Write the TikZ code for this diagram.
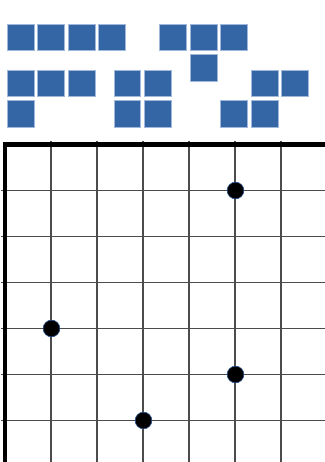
\documentclass[tikz,border=0pt]{standalone}
\usepackage{xcolor}
\usepackage{tikz}
\usetikzlibrary{shapes,positioning}
\definecolor{tileblue}{RGB}{52,101,164}
\definecolor{tileedge}{RGB}{160,185,218}
\definecolor{dotedge}{RGB}{40,80,140}

\begin{document}
\begin{tikzpicture}[x=0.75pt, y=0.75pt,
        cell/.style={rectangle, draw=tileedge, line width=0.6pt, fill=tileblue, minimum size=20pt, inner sep=0pt},
        dot/.style={circle, draw=dotedge, line width=0.5pt, fill=black, minimum size=12.5pt, inner sep=0pt},
        gridline/.style={black!70, line width=0.8pt},
        border/.style={black, line width=3.4pt}]

        \useasboundingbox (0,0) rectangle (325,462);

        % I piece
        \node[cell] (i1) at (20.65,424.65) {};
        \node[cell] (i2) at (51.15,424.65) {};
        \node[cell] (i3) at (81.65,424.65) {};
        \node[cell] (i4) at (112.15,424.65) {};

        % T piece
        \node[cell] (t1) at (173.15,424.65) {};
        \node[cell] (t2) at (203.65,424.65) {};
        \node[cell] (t3) at (234.15,424.65) {};
        \node[cell] (t4) at (203.65,394.05) {};

        % L piece
        \node[cell] (l1) at (20.65,378.65) {};
        \node[cell] (l2) at (51.15,378.65) {};
        \node[cell] (l3) at (81.65,378.65) {};
        \node[cell] (l4) at (20.65,348.35) {};

        % O piece
        \node[cell] (o1) at (127.4,378.65) {};
        \node[cell] (o2) at (157.9,378.65) {};
        \node[cell] (o3) at (127.4,348.35) {};
        \node[cell] (o4) at (157.9,348.35) {};

        % S piece
        \node[cell] (s1) at (264.65,378.65) {};
        \node[cell] (s2) at (295.15,378.65) {};
        \node[cell] (s3) at (234.15,348.35) {};
        \node[cell] (s4) at (264.65,348.35) {};

        % board
        \draw[gridline] (51,0) -- (51,321);
        \draw[gridline] (97,0) -- (97,321);
        \draw[gridline] (143,0) -- (143,321);
        \draw[gridline] (189,0) -- (189,321);
        \draw[gridline] (235,0) -- (235,321);
        \draw[gridline] (281,0) -- (281,321);
        \draw[gridline] (1,271.5) -- (325,271.5);
        \draw[gridline] (1,225.5) -- (325,225.5);
        \draw[gridline] (1,179.5) -- (325,179.5);
        \draw[gridline] (1,133.5) -- (325,133.5);
        \draw[gridline] (1,87.5) -- (325,87.5);
        \draw[gridline] (1,41.5) -- (325,41.5);
        \draw[border] (5,0) |- (325,317.5);

        \node[dot] (d1) at (235.5,271.5) {};
        \node[dot] (d2) at (51.5,133.5) {};
        \node[dot] (d3) at (235.5,87.5) {};
        \node[dot] (d4) at (143.5,41.5) {};

    \end{tikzpicture}
\end{document}
